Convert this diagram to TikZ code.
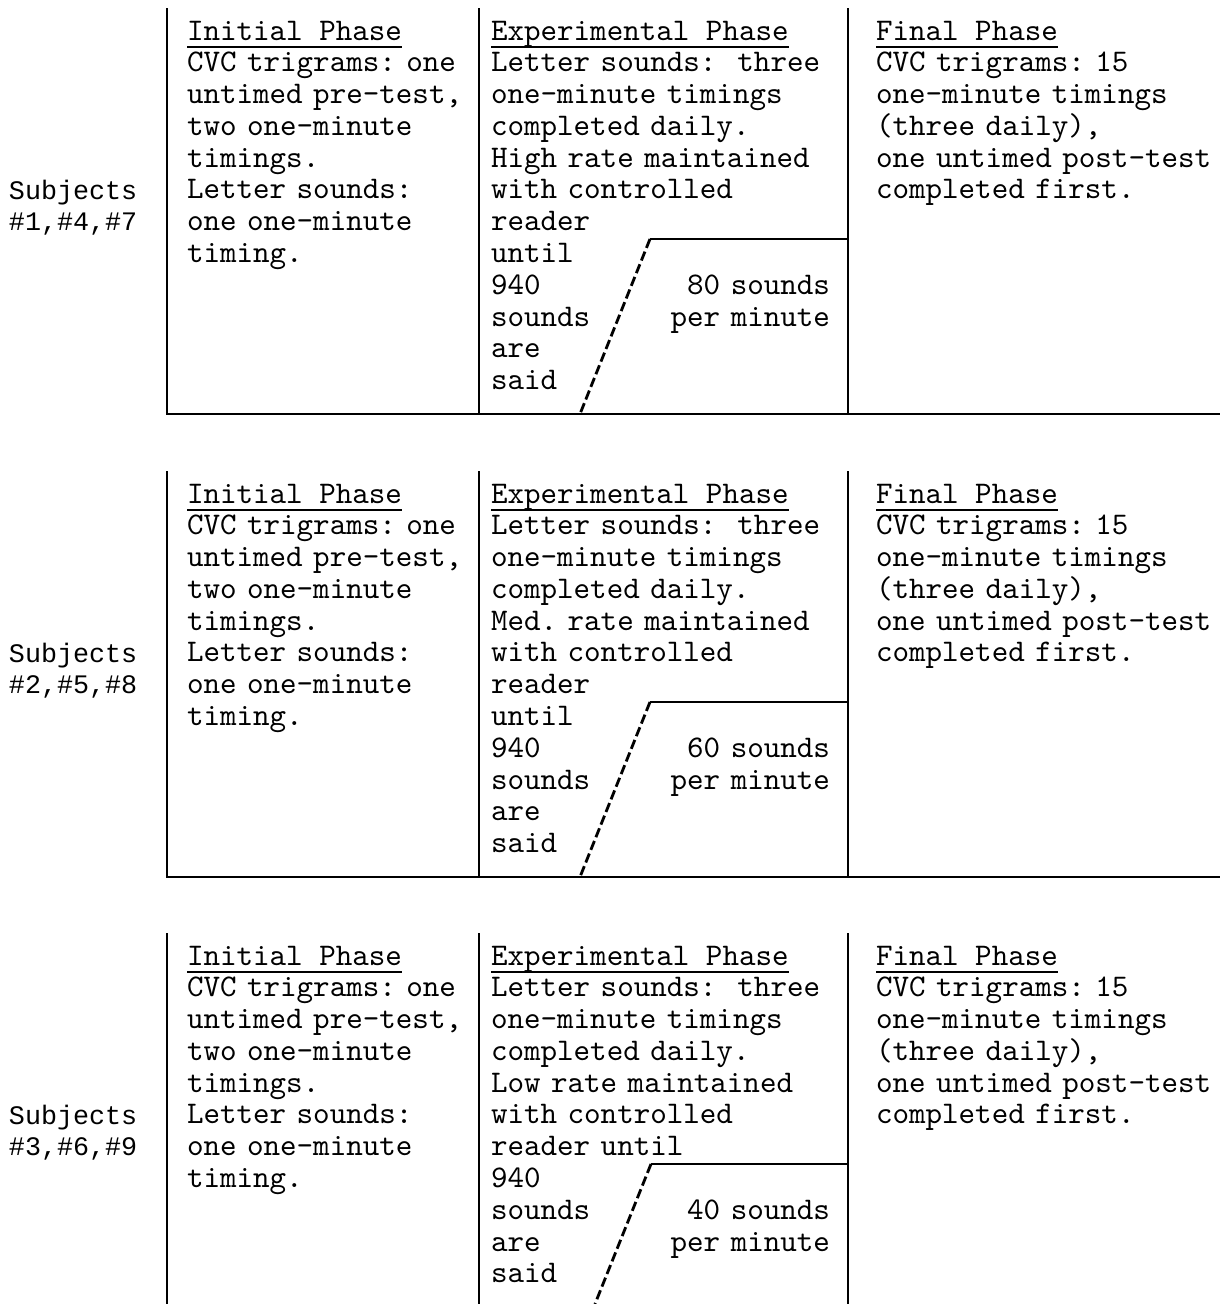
\documentclass[tikz,border=0pt]{standalone}
\usepackage{fontspec}
\newfontfamily\typewriter{lmmono10-regular.otf}
\newfontfamily\gothicmono{Liberation Mono}
\protected\def\typedfont{\typewriter\fontsize{22.4}{22.6}\selectfont\frenchspacing}
\protected\def\subjfont{\gothicmono\fontsize{19}{22.6}\selectfont\frenchspacing}
\usetikzlibrary{positioning}
\usetikzlibrary{calc}

\tikzset{
  typed/.style={font=\typedfont, inner sep=0pt, outer sep=0pt},
  phasehead/.style={typed, anchor=base west},
  phasebody/.style={typed, anchor=base west, text width=9cm, align=left},
  subjtext/.style={font=\subjfont, inner sep=0pt, outer sep=0pt, anchor=base west, text width=4cm, align=left},
  ratetext/.style={typed, anchor=base east, text width=5cm, align=right},
  boxline/.style={line width=1.6pt},
  rampline/.style={line width=2pt, dash pattern=on 2.4mm off 1mm},
  headline/.style={line width=1.1pt}
}

\begin{document}
\begin{tikzpicture}[x=0.025cm,y=-0.025cm]
\useasboundingbox (0,0) rectangle (1220,1304);

\node[subjtext](subjA) at (9,199){Subjects\\\#1,\#4,\#7};
\node[phasehead](initHA) at (187,40){Initial Phase};
\node[phasebody](initA) at (187,71.8){CVC trigrams: one\\untimed pre-test,\\two one-minute\\timings.\\Letter sounds:\\one one-minute\\timing.};
\node[phasehead](expHA) at (491,40){Experimental Phase};
\node[phasebody](expA) at (491,71.8){Letter sounds:~ three\\one-minute timings\\completed daily.\\High rate maintained\\with controlled\\reader\\until\\940\\sounds\\are\\said};
\node[ratetext](rateA) at (830,294.4){80 sounds\\per minute};
\node[phasehead](finHA) at (876,40){Final Phase};
\node[phasebody](finA) at (876,71.8){CVC trigrams: 15\\one-minute timings\\(three daily),\\one untimed post-test\\completed first.};
\coordinate (topA1) at (167,8);
\coordinate (botA1) at (167,414);
\coordinate (topA2) at (479,8);
\coordinate (botA2) at (479,414);
\coordinate (topA3) at (848,8);
\coordinate (botA3) at (848,414);
\coordinate (endA) at (1220,414);
\coordinate (kneeA) at (650,239);
\coordinate (stepA) at (848,239);
\coordinate (footA) at (580,414);
\draw[boxline] (topA1) -- (botA1) -- (endA);
\draw[boxline] (topA2) -- (botA2);
\draw[boxline] (topA3) -- (botA3);
\draw[boxline] (kneeA) -- (stepA);
\draw[rampline] (kneeA) -- (footA);
\draw[headline] ($(initHA.base west)+(0,7)$) -- ($(initHA.base east)+(0,7)$);
\draw[headline] ($(expHA.base west)+(0,7)$) -- ($(expHA.base east)+(0,7)$);
\draw[headline] ($(finHA.base west)+(0,7)$) -- ($(finHA.base east)+(0,7)$);

\node[subjtext](subjB) at (9,662){Subjects\\\#2,\#5,\#8};
\node[phasehead](initHB) at (187,503){Initial Phase};
\node[phasebody](initB) at (187,534.8){CVC trigrams: one\\untimed pre-test,\\two one-minute\\timings.\\Letter sounds:\\one one-minute\\timing.};
\node[phasehead](expHB) at (491,503){Experimental Phase};
\node[phasebody](expB) at (491,534.8){Letter sounds:~ three\\one-minute timings\\completed daily.\\Med. rate maintained\\with controlled\\reader\\until\\940\\sounds\\are\\said};
\node[ratetext](rateB) at (830,757.4){60 sounds\\per minute};
\node[phasehead](finHB) at (876,503){Final Phase};
\node[phasebody](finB) at (876,534.8){CVC trigrams: 15\\one-minute timings\\(three daily),\\one untimed post-test\\completed first.};
\coordinate (topB1) at (167,471);
\coordinate (botB1) at (167,877);
\coordinate (topB2) at (479,471);
\coordinate (botB2) at (479,877);
\coordinate (topB3) at (848,471);
\coordinate (botB3) at (848,877);
\coordinate (endB) at (1220,877);
\coordinate (kneeB) at (650,702);
\coordinate (stepB) at (848,702);
\coordinate (footB) at (580,877);
\draw[boxline] (topB1) -- (botB1) -- (endB);
\draw[boxline] (topB2) -- (botB2);
\draw[boxline] (topB3) -- (botB3);
\draw[boxline] (kneeB) -- (stepB);
\draw[rampline] (kneeB) -- (footB);
\draw[headline] ($(initHB.base west)+(0,7)$) -- ($(initHB.base east)+(0,7)$);
\draw[headline] ($(expHB.base west)+(0,7)$) -- ($(expHB.base east)+(0,7)$);
\draw[headline] ($(finHB.base west)+(0,7)$) -- ($(finHB.base east)+(0,7)$);

\node[subjtext](subjC) at (9,1124){Subjects\\\#3,\#6,\#9};
\node[phasehead](initHC) at (187,965){Initial Phase};
\node[phasebody](initC) at (187,996.8){CVC trigrams: one\\untimed pre-test,\\two one-minute\\timings.\\Letter sounds:\\one one-minute\\timing.};
\node[phasehead](expHC) at (491,965){Experimental Phase};
\node[phasebody](expC) at (491,996.8){Letter sounds:~ three\\one-minute timings\\completed daily.\\Low rate maintained\\with controlled\\reader until\\940\\sounds\\are\\said};
\node[ratetext](rateC) at (830,1219.4){40 sounds\\per minute};
\node[phasehead](finHC) at (876,965){Final Phase};
\node[phasebody](finC) at (876,996.8){CVC trigrams: 15\\one-minute timings\\(three daily),\\one untimed post-test\\completed first.};
\coordinate (topC1) at (167,933);
\coordinate (botC1) at (167,1304);
\coordinate (topC2) at (479,933);
\coordinate (botC2) at (479,1304);
\coordinate (topC3) at (848,933);
\coordinate (botC3) at (848,1304);
\coordinate (kneeC) at (651,1164);
\coordinate (stepC) at (848,1164);
\coordinate (footC) at (595,1304);
\draw[boxline] (topC1) -- (botC1);
\draw[boxline] (topC2) -- (botC2);
\draw[boxline] (topC3) -- (botC3);
\draw[boxline] (kneeC) -- (stepC);
\draw[rampline] (kneeC) -- (footC);
\draw[headline] ($(initHC.base west)+(0,7)$) -- ($(initHC.base east)+(0,7)$);
\draw[headline] ($(expHC.base west)+(0,7)$) -- ($(expHC.base east)+(0,7)$);
\draw[headline] ($(finHC.base west)+(0,7)$) -- ($(finHC.base east)+(0,7)$);
\end{tikzpicture}
\end{document}
